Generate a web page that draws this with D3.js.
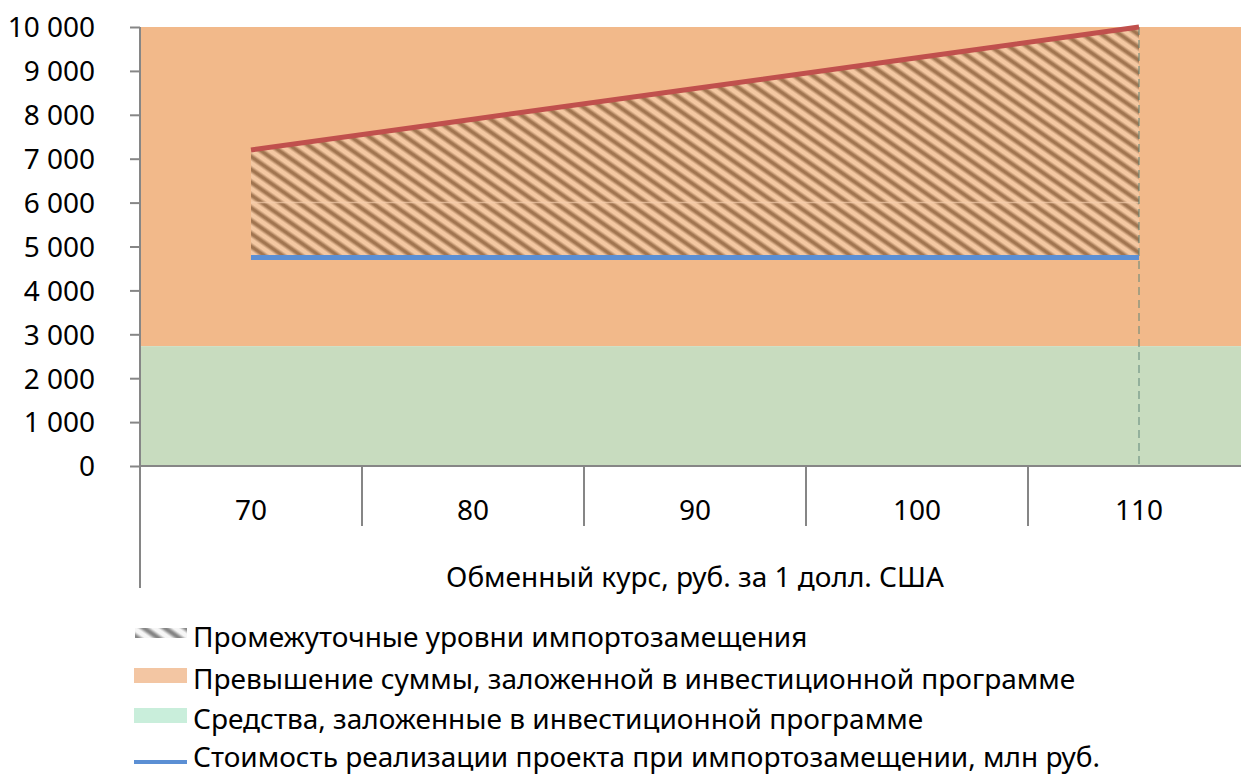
<!DOCTYPE html>
<html>
<head>
<meta charset="utf-8">
<title>Импортозамещение</title>
<script src="https://d3js.org/d3.v7.min.js"></script>
<style>
  body { margin: 0; background: #fff; }
  svg text { font-family: "Noto Sans", "Open Sans", sans-serif; fill: #000; }
</style>
</head>
<body>
<svg id="chart" width="1241" height="776"></svg>
<script>
// data
const categories = [70, 80, 90, 100, 110];
const costImport = [4750, 4750, 4750, 4750, 4750];     // blue line
const costMax = [7200, 7900, 8600, 9300, 10000];        // red line
const budgetLevel = 2730;                                // green band top
const excessLevel = 10000;                               // orange band top
const yTicks = [0, 1000, 2000, 3000, 4000, 5000, 6000, 7000, 8000, 9000, 10000];
const xTitle = "Обменный курс, руб. за 1 долл. США";
const legendItems = [
  "Промежуточные уровни импортозамещения",
  "Превышение суммы, заложенной в инвестиционной программе",
  "Средства, заложенные в инвестиционной программе",
  "Стоимость реализации проекта при импортозамещении, млн руб."
];

const svg = d3.select("#chart");
const W = +svg.attr("width");
const LEFT = 140, TOP = 27, BOTTOM = 466;
const FS = 28;

const x = d3.scaleBand().domain(categories).range([LEFT, 1250]);
const xc = d => x(d) + x.bandwidth() / 2;
const y = d3.scaleLinear().domain([0, 10000]).range([BOTTOM, TOP]);

const defs = svg.append("defs");

// soft stripe gradient, used inside the hatch patterns
function stripeGrad(id, light, dark) {
  const g = defs.append("linearGradient").attr("id", id)
      .attr("x1", 0).attr("x2", 1).attr("y1", 0).attr("y2", 0);
  g.append("stop").attr("offset", "0%").attr("stop-color", light);
  g.append("stop").attr("offset", "15%").attr("stop-color", light);
  g.append("stop").attr("offset", "42%").attr("stop-color", dark);
  g.append("stop").attr("offset", "58%").attr("stop-color", dark);
  g.append("stop").attr("offset", "85%").attr("stop-color", light);
  g.append("stop").attr("offset", "100%").attr("stop-color", light);
}
stripeGrad("stripeOrange", "#f4c8a2", "#a0744f");
stripeGrad("stripeGrey", "#f6f6f6", "#858585");

function hatch(id, grad, size) {
  const p = defs.append("pattern")
      .attr("id", id).attr("patternUnits", "userSpaceOnUse")
      .attr("width", size).attr("height", size)
      .attr("patternTransform", "rotate(-55)");
  p.append("rect").attr("width", size).attr("height", size).attr("fill", `url(#${grad})`);
}
hatch("hatch", "stripeOrange", 10.5);
hatch("hatchLegend", "stripeGrey", 12);

defs.append("clipPath").attr("id", "plotClip")
  .append("rect").attr("x", LEFT).attr("y", 0).attr("width", W - LEFT).attr("height", BOTTOM);

const plot = svg.append("g").attr("clip-path", "url(#plotClip)");

// bands
plot.append("rect")
    .attr("x", LEFT).attr("y", y(excessLevel))
    .attr("width", W - LEFT).attr("height", y(budgetLevel) - y(excessLevel))
    .attr("fill", "#f2b98a");
plot.append("rect")
    .attr("x", LEFT).attr("y", y(budgetLevel))
    .attr("width", W - LEFT).attr("height", y(0) - y(budgetLevel))
    .attr("fill", "#c8dcbf");

// hatched area between lines
const rows = categories.map((c, i) => ({ c, lo: costImport[i], hi: costMax[i] }));
const areaGen = d3.area().x(d => xc(d.c)).y0(d => y(d.lo)).y1(d => y(d.hi));
plot.append("path")
    .datum(rows)
    .attr("fill", "url(#hatch)")
    .attr("d", areaGen);

// faint gridline showing through the hatch
defs.append("clipPath").attr("id", "hatchClip")
  .append("path").datum(rows).attr("d", areaGen);
plot.append("line")
    .attr("clip-path", "url(#hatchClip)")
    .attr("x1", LEFT).attr("x2", W)
    .attr("y1", y(6000)).attr("y2", y(6000))
    .attr("stroke", "#f6cfae").attr("stroke-width", 1.5).attr("opacity", 0.7);

// drop line at last category
const last = categories[categories.length - 1];
plot.append("line")
    .attr("x1", xc(last)).attr("x2", xc(last))
    .attr("y1", y(excessLevel)).attr("y2", BOTTOM)
    .attr("stroke", "#5f8578").attr("stroke-width", 1)
    .attr("stroke-dasharray", "8,5");

plot.append("path")
    .datum(rows)
    .attr("fill", "none").attr("stroke", "#5b8fd4").attr("stroke-width", 5)
    .attr("d", d3.line().x(d => xc(d.c)).y(d => y(d.lo)));
plot.append("path")
    .datum(rows)
    .attr("fill", "none").attr("stroke", "#c0504d").attr("stroke-width", 5)
    .attr("d", d3.line().x(d => xc(d.c)).y(d => y(d.hi)));

// y axis
const yAxis = d3.axisLeft(y)
    .tickValues(yTicks)
    .tickSize(10).tickPadding(35)
    .tickFormat(d => d3.format(",")(d).replace(/,/g, " "));
const gy = svg.append("g").attr("transform", `translate(${LEFT},0)`).call(yAxis);
gy.select(".domain").attr("stroke", "#868686").attr("stroke-width", 2)
  .attr("d", `M0,${TOP}V588`);
gy.selectAll(".tick line").attr("stroke", "#868686").attr("stroke-width", 2);
gy.selectAll(".tick text").style("font-size", FS + "px").attr("dy", "0.35em");

// x axis
const xAxis = d3.axisBottom(x).tickSize(0).tickPadding(0);
const gx = svg.append("g").attr("transform", `translate(0,${BOTTOM})`).call(xAxis);
gx.select(".domain").attr("stroke", "#868686").attr("stroke-width", 2)
  .attr("d", `M${LEFT},0H${W}`);
gx.selectAll(".tick text").style("font-size", FS + "px").attr("y", 44).attr("dy", "0.35em");
gx.selectAll(".sep")
  .data(categories.slice(1))
  .enter().append("line")
  .attr("class", "sep")
  .attr("x1", d => x(d)).attr("x2", d => x(d))
  .attr("y1", 0).attr("y2", 60)
  .attr("stroke", "#868686").attr("stroke-width", 2);

svg.append("text")
  .attr("x", (LEFT + 1250) / 2).attr("y", 577)
  .attr("text-anchor", "middle").attr("dy", "0.35em")
  .style("font-size", FS + "px")
  .text(xTitle);

// legend
const lg = svg.append("g");
const rowY = [637, 679, 719, 757];
legendItems.forEach((t, i) => {
  const g = lg.append("g").attr("transform", `translate(0,${rowY[i]})`);
  if (i === 0) {
    g.append("rect").attr("x", 135).attr("y", -9).attr("width", 52).attr("height", 10)
     .attr("fill", "url(#hatchLegend)");
  } else if (i === 1) {
    g.append("rect").attr("x", 134).attr("y", -11).attr("width", 53).attr("height", 15)
     .attr("fill", "#f3c6a3");
  } else if (i === 2) {
    g.append("rect").attr("x", 134).attr("y", -11).attr("width", 53).attr("height", 15)
     .attr("fill", "#c9eedb");
  } else {
    g.append("line").attr("x1", 134).attr("x2", 187).attr("y1", 5).attr("y2", 5)
     .attr("stroke", "#5b8fd4").attr("stroke-width", 4);
  }
  g.append("text").attr("x", 193).attr("dy", "0.35em")
   .style("font-size", FS + "px").text(t);
});
</script>
</body>
</html>
